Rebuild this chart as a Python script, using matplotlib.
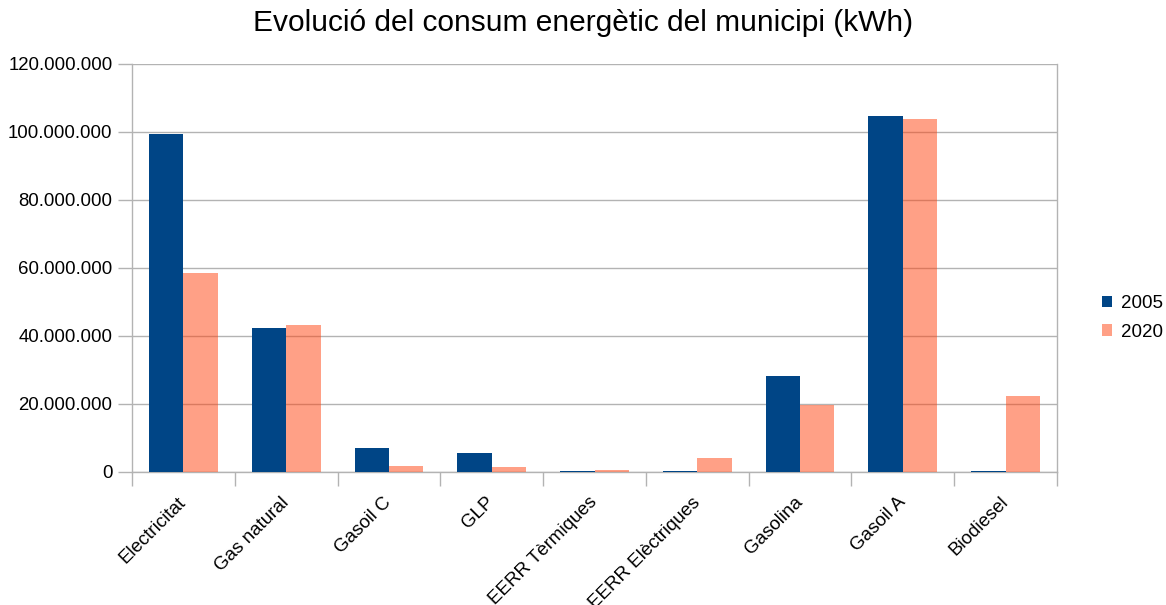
import matplotlib
matplotlib.use("Agg")
import matplotlib.pyplot as plt
import numpy as np
from matplotlib.ticker import FuncFormatter
from matplotlib.patches import Patch

categories = ["Electricitat", "Gas natural", "Gasoil C", "GLP", "EERR Tèrmiques",
              "EERR Elèctriques", "Gasolina", "Gasoil A", "Biodiesel"]
v2005 = [99.4e6, 42.4e6, 7.1e6, 5.6e6, 0.15e6, 0.15e6, 28.2e6, 104.8e6, 0.15e6]
v2020 = [58.5e6, 43.2e6, 1.8e6, 1.5e6, 0.6e6, 4.1e6, 19.7e6, 103.8e6, 22.4e6]
series_names = ["2005", "2020"]
yticks = [0, 20e6, 40e6, 60e6, 80e6, 100e6, 120e6]

plt.rcParams['font.family'] = ['Liberation Sans', 'DejaVu Sans']

fig = plt.figure(figsize=(11.66, 6.05), dpi=100)
ax = fig.add_axes([132/1166, 1-472/605, (1057-132)/1166, (472-64)/605])

x = np.arange(len(categories))
w = 0.335
c1 = '#004586'
c2 = '#ff420e'
ax.bar(x - w/2, v2005, width=w, color=c1, zorder=3)
ax.bar(x + w/2, v2020, width=w, color=c2, alpha=0.5, zorder=3)

ax.set_xlim(-0.5, len(categories) - 0.5)
ax.set_ylim(0, 120e6)
ax.set_yticks(yticks)
ax.yaxis.set_major_formatter(FuncFormatter(lambda v, p: f"{int(v):,}".replace(",", ".")))
ax.yaxis.grid(True, color='#b3b3b3', linewidth=1, zorder=1)
ax.set_axisbelow(True)

ax.set_xticks(np.arange(-0.5, len(categories) + 0.5, 1))
ax.set_xticklabels([])
ax.set_xticks(x, minor=True)
ax.set_xticklabels(categories, minor=True, rotation=45, ha='right', va='center',
                   rotation_mode='anchor', fontsize=13.5)
ax.tick_params(axis='x', which='minor', length=0, pad=20)
ax.tick_params(axis='x', which='major', length=10, color='#b3b3b3', width=1)
ax.tick_params(axis='y', length=10, color='#b3b3b3', width=1, labelsize=13.4, pad=4)

for s in ['left', 'right', 'bottom']:
    ax.spines[s].set_color('#b3b3b3')
    ax.spines[s].set_linewidth(1)
ax.spines['top'].set_visible(False)

fig.suptitle("Evolució del consum energètic del municipi (kWh)", fontsize=21.5, y=0.985)

handles = [Patch(facecolor=c1, label=series_names[0]),
           Patch(facecolor=c2, alpha=0.5, label=series_names[1])]
fig.legend(handles=handles, loc='center left', bbox_to_anchor=(1102/1166, 1-318/605),
           frameon=False, fontsize=13.5, handlelength=0.55, handleheight=0.55,
           handletextpad=0.45, labelspacing=0.6, borderpad=0, borderaxespad=0)

fig.savefig("out.png", dpi=100)
